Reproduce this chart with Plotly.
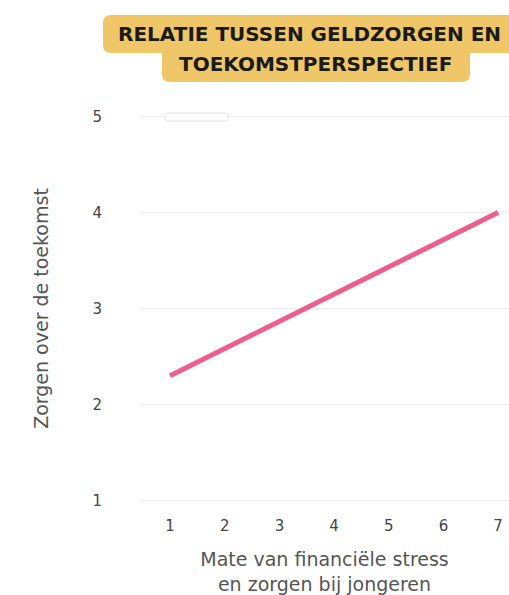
import plotly.graph_objects as go

# Financial stress score (x) vs. worry about the future (y)
stress_levels = [1, 7]
future_worry = [2.3, 4.0]

x_ticks = [1, 2, 3, 4, 5, 6, 7]
y_ticks = [1, 2, 3, 4, 5]

title_lines = ["RELATIE TUSSEN GELDZORGEN EN", "TOEKOMSTPERSPECTIEF"]
x_title = "Mate van financiële stress<br>en zorgen bij jongeren"
y_title = "Zorgen over de toekomst"

W, H = 509, 595
L, R, T, B = 140, 0, 107, 85


def px_to_paper(px, py):
    return (px - L) / (W - L - R), (H - B - py) / (H - T - B)


def rounded_box(x0, y0, x1, y1, r):
    """Rounded rectangle path in paper coordinates, given pixel corners."""
    ax0, ay0 = px_to_paper(x0, y0)
    ax1, ay1 = px_to_paper(x1, y1)
    rx = r / (W - L - R)
    ry = r / (H - T - B)
    return (
        f"M{ax0 + rx},{ay0} L{ax1 - rx},{ay0} Q{ax1},{ay0} {ax1},{ay0 - ry} "
        f"L{ax1},{ay1 + ry} Q{ax1},{ay1} {ax1 - rx},{ay1} "
        f"L{ax0 + rx},{ay1} Q{ax0},{ay1} {ax0},{ay1 + ry} "
        f"L{ax0},{ay0 - ry} Q{ax0},{ay0} {ax0 + rx},{ay0} Z"
    )


fig = go.Figure()
fig.add_trace(go.Scatter(
    x=stress_levels, y=future_worry, mode="lines",
    line=dict(color="#EF5D8B", width=5),
    showlegend=False, hoverinfo="skip",
))

yellow = "#F0C768"
shapes = [
    dict(type="path", xref="paper", yref="paper", layer="below",
         path=rounded_box(103, 15, 540, 53, 8), fillcolor=yellow, line_width=0),
    dict(type="path", xref="paper", yref="paper", layer="below",
         path=rounded_box(162, 48, 470, 82, 8), fillcolor=yellow, line_width=0),
    dict(type="path", xref="paper", yref="paper", layer="above",
         path=rounded_box(165, 113, 228, 121, 3), fillcolor="white",
         line=dict(color="#e4e4e4", width=1)),
]

tx1, ty1 = px_to_paper(309, 34)
tx2, ty2 = px_to_paper(315, 64)
title_font = dict(family="DejaVu Sans", size=20, color="#1a1a1a", weight="bold")
annotations = [
    dict(text=title_lines[0], x=tx1, y=ty1, xref="paper", yref="paper",
         showarrow=False, xanchor="center", yanchor="middle", font=title_font),
    dict(text=title_lines[1], x=tx2, y=ty2, xref="paper", yref="paper",
         showarrow=False, xanchor="center", yanchor="middle", font=title_font),
]

axis_font = dict(family="DejaVu Sans", size=19, color="#555555")
tick_font = dict(family="DejaVu Sans", size=15, color="#444444")

fig.update_layout(
    width=W, height=H,
    margin=dict(l=L, r=R, t=T, b=B),
    paper_bgcolor="white", plot_bgcolor="white",
    shapes=shapes, annotations=annotations,
    xaxis=dict(
        range=[0.45, 7.2], tickvals=x_ticks, ticktext=[str(v) for v in x_ticks],
        showgrid=False, zeroline=False, showline=False, ticks="",
        tickfont=tick_font, ticklabelstandoff=5,
        title=dict(text=x_title, font=axis_font, standoff=20),
    ),
    yaxis=dict(
        range=[0.9, 5.1], tickvals=y_ticks, ticktext=[str(v) for v in y_ticks],
        showgrid=True, gridcolor="#eeeeee", gridwidth=1,
        zeroline=False, showline=False, ticks="",
        tickfont=tick_font, ticklabelstandoff=37,
        title=dict(text=y_title, font=axis_font, standoff=38),
    ),
)

fig.write_html("out.html")
